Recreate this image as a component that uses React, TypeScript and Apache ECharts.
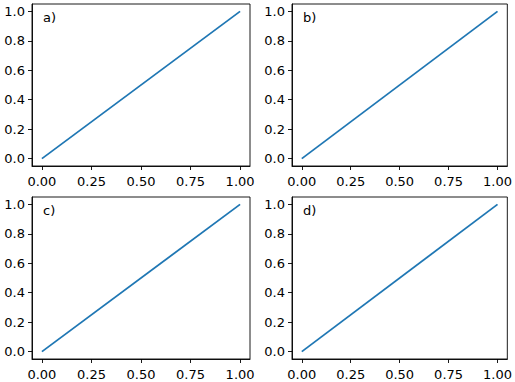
import React, { useEffect, useRef } from "react";
import * as echarts from "echarts";

const panelLabels = ["a)", "b)", "c)", "d)"];
const xValues = [0, 1];
const yValues = [0, 1];
const xTicks = [0, 0.25, 0.5, 0.75, 1.0];
const yTicks = [0, 0.2, 0.4, 0.6, 0.8, 1.0];

const FONT = "DejaVu Sans";
const LINE_COLOR = "#1f77b4";
const FS = 13;

export default function App() {
  const ref = useRef<HTMLDivElement>(null);
  useEffect(() => {
    if (!ref.current) return;
    const chart = echarts.init(ref.current, undefined, { renderer: "svg" });
    const cols = [32, 292];
    const rows = [4, 197];
    const w = 218;
    const h = 162;
    const grids: any[] = [];
    const xAxes: any[] = [];
    const yAxes: any[] = [];
    const series: any[] = [];
    const graphics: any[] = [];
    panelLabels.forEach((lab, i) => {
      const r = Math.floor(i / 2);
      const c = i % 2;
      grids.push({
        left: cols[c],
        top: rows[r],
        width: w,
        height: h,
        show: true,
        borderColor: "#000",
        borderWidth: 0.9,
        backgroundColor: "transparent",
        containLabel: false,
      });
      xAxes.push({
        type: "value",
        gridIndex: i,
        min: -0.05,
        max: 1.05,
        splitLine: { show: false },
        axisLine: { show: true, onZero: false, lineStyle: { color: "#000", width: 0.9 } },
        axisTick: { show: true, length: 4, customValues: xTicks, lineStyle: { color: "#000", width: 0.9 } },
        axisLabel: {
          customValues: xTicks,
          formatter: (v: number) => v.toFixed(2),
          color: "#000",
          fontFamily: FONT,
          fontSize: FS,
          margin: 9,
        },
      });
      yAxes.push({
        type: "value",
        gridIndex: i,
        min: -0.05,
        max: 1.05,
        splitLine: { show: false },
        axisLine: { show: true, onZero: false, lineStyle: { color: "#000", width: 0.9 } },
        axisTick: { show: true, length: 4, customValues: yTicks, lineStyle: { color: "#000", width: 0.9 } },
        axisLabel: {
          customValues: yTicks,
          formatter: (v: number) => v.toFixed(1),
          color: "#000",
          fontFamily: FONT,
          fontSize: FS,
          margin: 7,
        },
      });
      series.push({
        type: "line",
        xAxisIndex: i,
        yAxisIndex: i,
        data: xValues.map((x, k) => [x, yValues[k]]),
        showSymbol: false,
        symbol: "none",
        lineStyle: { color: LINE_COLOR, width: 1.8 },
      });
      graphics.push({
        type: "text",
        x: cols[c] + 11,
        y: rows[r] + 7,
        style: {
          text: lab,
          font: `${FS}px "${FONT}"`,
          fill: "#000",
          verticalAlign: "top",
        },
      });
    });
    chart.setOption({
      animation: false,
      backgroundColor: "#fff",
      grid: grids,
      xAxis: xAxes,
      yAxis: yAxes,
      series,
      graphic: graphics,
    });
    return () => chart.dispose();
  }, []);
  return <div ref={ref} style={{ width: 515, height: 382, position: "fixed", left: 0, top: 0 }} />;
}
